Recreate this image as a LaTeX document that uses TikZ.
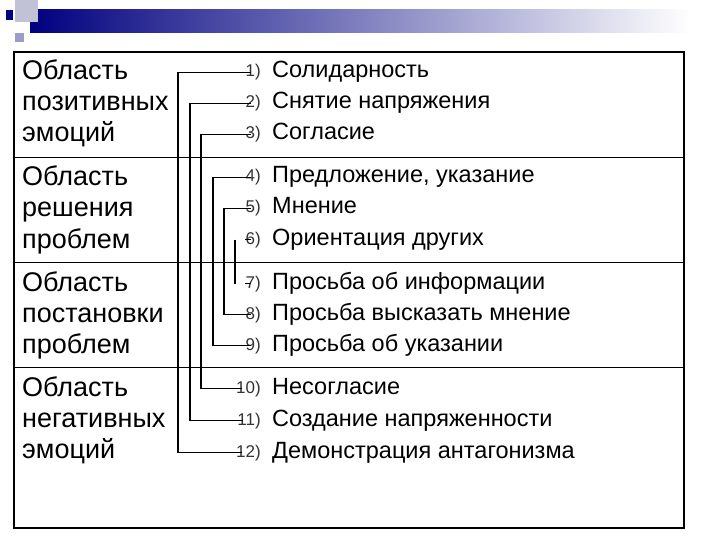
\documentclass[tikz,border=0pt]{standalone}
\usepackage{fontspec}
\setmainfont{Liberation Sans}
\begin{document}
\begin{tikzpicture}[x=1pt,y=-1pt,
  big/.style={anchor=base west,font=\fontsize{27}{27}\selectfont,inner sep=0},
  item/.style={anchor=base west,font=\fontsize{23.5}{23.5}\selectfont,inner sep=0},
  num/.style={anchor=base east,font=\fontsize{17}{17}\selectfont,inner sep=0,text=black!80},
  conn/.style={line width=1.3pt}]
\useasboundingbox (0,0) rectangle (720,540);
\shade[left color=blue!50!black,right color=white] (30,10) rectangle (690,33);
\fill[blue!20!gray!40] (15,0) rectangle (38,22);
\fill[blue!50!black] (6,10) rectangle (13,20);
\fill[blue!30!gray!60] (15,33) rectangle (24,42);
\draw[line width=1.3pt] (14,52) rectangle (684,528);
\foreach \y in {157,262,367} \draw[line width=0.6pt] (14,\y) -- (684,\y);
\node[big] (l1a) at (22,80) {Область};
\node[big] (l1b) at (22,111) {позитивных};
\node[big] (l1c) at (22,142) {эмоций};
\node[big] (l2a) at (22,186) {Область};
\node[big] (l2b) at (22,217) {решения};
\node[big] (l2c) at (22,248) {проблем};
\node[big] (l3a) at (22,291) {Область};
\node[big] (l3b) at (22,322) {постановки};
\node[big] (l3c) at (22,353) {проблем};
\node[big] (l4a) at (22,396) {Область};
\node[big] (l4b) at (22,427) {негативных};
\node[big] (l4c) at (22,458) {эмоций};
\foreach \i/\y/\t in {1/70/Солидарность,2/101/Снятие напряжения,3/132/Согласие,
  4/175/{Предложение, указание},5/206/Мнение,6/237/Ориентация других,
  7/281/Просьба об информации,8/312/Просьба высказать мнение,9/343/Просьба об указании,
  10/386/Несогласие,11/418/Создание напряженности,12/450/Демонстрация антагонизма}{
  \node[num] (n\i) at (261,\y+7) {\i)};
  \node[item] (t\i) at (272,\y+8) {\t};
}
\coordinate (c1) at (178,0); \coordinate (c2) at (190,0); \coordinate (c3) at (201,0);
\coordinate (c4) at (213,0); \coordinate (c5) at (224,0); \coordinate (c6) at (235,0);
\draw[conn] (n1.west) -- (n1.west -| c1) -- (n12.west -| c1) -- (n12.west);
\draw[conn] (n2.west) -- (n2.west -| c2) -- (n11.west -| c2) -- (n11.west);
\draw[conn] (n3.west) -- (n3.west -| c3) -- (n10.west -| c3) -- (n10.west);
\draw[conn] (n4.west) -- (n4.west -| c4) -- (n9.west -| c4) -- (n9.west);
\draw[conn] (n5.west) -- (n5.west -| c5) -- (n8.west -| c5) -- (n8.west);
\draw[conn] (n6.west -| c6) -- (n7.west -| c6);
\foreach \i in {1,...,12} \draw[conn] (n\i.west) -- ++(6,0);
\end{tikzpicture}
\end{document}
